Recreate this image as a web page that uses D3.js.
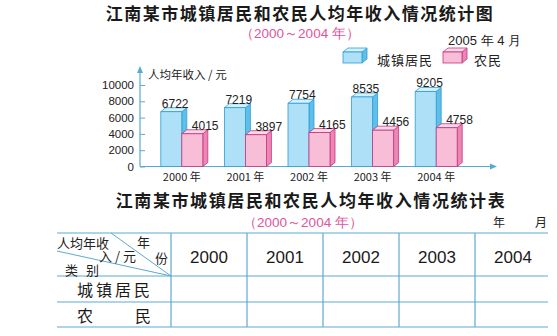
<!DOCTYPE html>
<html>
<head>
<meta charset="utf-8">
<script src="https://cdn.jsdelivr.net/npm/d3@7"></script>
<style>
  html, body { margin: 0; padding: 0; background: #fff; }
  svg { display: block; }
</style>
</head>
<body>
<svg id="chart" width="557" height="336"></svg>
<script>
// Per-capita annual income, 2000–2004 (yuan)
const years = ["2000", "2001", "2002", "2003", "2004"];
const urbanIncome = [6722, 7219, 7754, 8535, 9205];
const ruralIncome = [4015, 3897, 4165, 4456, 4758];
const yTicks = [0, 2000, 4000, 6000, 8000, 10000];
const seriesNames = ["城镇居民", "农民"];

const CJK = "'Noto Sans CJK SC', 'Noto Sans', sans-serif";
const LATIN = "'Liberation Sans', Arial, sans-serif";

const svg = d3.select("#chart");

const palette = {
  urban: { front: "#aee0f7", side: "#5fbfe9", top: "#d6f1fc", stroke: "#2c9fd6" },
  rural: { front: "#f8bdd7", side: "#ec86b5", top: "#fcd9e8", stroke: "#c8327e" }
};
const axisColor = "#5aa9d2";
const depthX = 5, depthY = 4;

// ---------- chart titles ----------
svg.append("text")
  .attr("x", 300).attr("y", 20)
  .attr("text-anchor", "middle")
  .attr("font-family", CJK).attr("font-weight", 700)
  .attr("font-size", 17).attr("letter-spacing", 1.5)
  .attr("fill", "#1a1a1a")
  .text("江南某市城镇居民和农民人均年收入情况统计图");

svg.append("text")
  .attr("x", 300).attr("y", 38)
  .attr("text-anchor", "middle")
  .attr("font-family", LATIN).attr("font-size", 13.5)
  .attr("fill", "#e0559c")
  .text("（2000～2004 年）");

svg.append("text")
  .attr("x", 448).attr("y", 45)
  .attr("font-family", LATIN).attr("font-size", 13)
  .attr("fill", "#222")
  .text("2005 年 4 月");

// ---------- scales ----------
const x = d3.scaleBand().domain(years).range([150, 468]);
const y = d3.scaleLinear().domain([0, 10000]).range([166.5, 85]);
const barW = 21;

// draws a box with front face, side face and top face
function box(g, x0, y0, w, h, c) {
  g.append("path")
    .attr("d", `M${x0 + w},${y0} l${depthX},${-depthY} l0,${h} l${-depthX},${depthY} Z`)
    .attr("fill", c.side).attr("stroke", c.stroke).attr("stroke-width", 0.8);
  g.append("path")
    .attr("d", `M${x0},${y0} l${depthX},${-depthY} l${w},0 l${-depthX},${depthY} Z`)
    .attr("fill", c.top).attr("stroke", c.stroke).attr("stroke-width", 0.8);
  g.append("rect")
    .attr("x", x0).attr("y", y0).attr("width", w).attr("height", h)
    .attr("fill", c.front).attr("stroke", c.stroke).attr("stroke-width", 0.8);
}

// ---------- axes ----------
const axes = svg.append("g");
axes.append("line")
  .attr("x1", 140).attr("x2", 140)
  .attr("y1", y(0)).attr("y2", 72)
  .attr("stroke", axisColor).attr("stroke-width", 1.2);
axes.append("path")
  .attr("d", "M140,66 l-3,7 l6,0 Z").attr("fill", axisColor);
axes.append("line")
  .attr("x1", 140).attr("x2", 490)
  .attr("y1", y(0)).attr("y2", y(0))
  .attr("stroke", axisColor).attr("stroke-width", 1.2);
axes.append("path")
  .attr("d", `M497,${y(0)} l-7,-3 l0,6 Z`).attr("fill", axisColor);

const yAxis = d3.axisRight(y).tickValues(yTicks).tickSize(5).tickFormat("");
const yg = svg.append("g").attr("transform", "translate(140,0)").call(yAxis);
yg.select(".domain").remove();
yg.selectAll(".tick line").attr("stroke", axisColor);

svg.append("g").selectAll("text").data(yTicks).join("text")
  .attr("x", 134).attr("y", d => y(d) + 4)
  .attr("text-anchor", "end")
  .attr("font-family", LATIN).attr("font-size", 11.5)
  .attr("fill", "#222")
  .text(d => d);

svg.append("text")
  .attr("x", 148).attr("y", 79)
  .attr("font-family", CJK).attr("font-size", 11.5)
  .attr("fill", "#222")
  .text("人均年收入 / 元");

// ---------- bars ----------
const bars = svg.append("g");
years.forEach((yr, i) => {
  const cx = x(yr) + x.bandwidth() / 2;
  box(bars.append("g"), cx - barW, y(urbanIncome[i]), barW, y(0) - y(urbanIncome[i]), palette.urban);
  box(bars.append("g"), cx, y(ruralIncome[i]), barW, y(0) - y(ruralIncome[i]), palette.rural);
});

// value labels
const labels = svg.append("g")
  .attr("font-family", LATIN).attr("font-size", 12).attr("fill", "#222");
years.forEach((yr, i) => {
  const cx = x(yr) + x.bandwidth() / 2;
  labels.append("text")
    .attr("x", cx - barW + 1).attr("y", y(urbanIncome[i]) - 4)
    .text(urbanIncome[i]);
  labels.append("text")
    .attr("x", cx + 10).attr("y", y(ruralIncome[i]) - 4)
    .text(ruralIncome[i]);
});

// category labels
svg.append("g").selectAll("text").data(years).join("text")
  .attr("x", d => x(d) + x.bandwidth() / 2)
  .attr("y", 181)
  .attr("text-anchor", "middle")
  .attr("font-family", CJK).attr("font-size", 11)
  .attr("fill", "#222")
  .text(d => d + " 年");

// ---------- legend ----------
const legend = svg.append("g");
box(legend.append("g"), 343, 52, 19, 11, palette.urban);
legend.append("text")
  .attr("x", 377).attr("y", 65)
  .attr("font-family", CJK).attr("font-size", 13)
  .attr("letter-spacing", 1)
  .attr("fill", "#222")
  .text(seriesNames[0]);
box(legend.append("g"), 443, 52, 19, 11, palette.rural);
legend.append("text")
  .attr("x", 474).attr("y", 65)
  .attr("font-family", CJK).attr("font-size", 13)
  .attr("letter-spacing", 1)
  .attr("fill", "#222")
  .text(seriesNames[1]);

// ---------- blank statistics table ----------
svg.append("text")
  .attr("x", 311).attr("y", 207)
  .attr("text-anchor", "middle")
  .attr("font-family", CJK).attr("font-weight", 700)
  .attr("font-size", 17).attr("letter-spacing", 1.6)
  .attr("fill", "#1a1a1a")
  .text("江南某市城镇居民和农民人均年收入情况统计表");

svg.append("text")
  .attr("x", 303).attr("y", 227)
  .attr("text-anchor", "middle")
  .attr("font-family", LATIN).attr("font-size", 13.5)
  .attr("fill", "#e0559c")
  .text("（2000～2004 年）");

svg.append("text").attr("x", 493).attr("y", 227)
  .attr("font-family", CJK).attr("font-size", 12).attr("fill", "#222").text("年");
svg.append("text").attr("x", 535).attr("y", 227)
  .attr("font-family", CJK).attr("font-size", 12).attr("fill", "#222").text("月");

const tx = d3.scaleBand().domain(years).range([171, 551]);
const rowY = [233, 276, 302, 327];
const tableLeft = 57, tableRight = 548;
const lineColor = "#5ea9cf";
const table = svg.append("g");

table.selectAll("line.h").data(rowY).join("line")
  .attr("x1", tableLeft).attr("x2", tableRight)
  .attr("y1", d => d).attr("y2", d => d)
  .attr("stroke", lineColor).attr("stroke-width", 1.2);

table.selectAll("line.v").data(years).join("line")
  .attr("x1", d => tx(d)).attr("x2", d => tx(d))
  .attr("y1", rowY[0]).attr("y2", rowY[3])
  .attr("stroke", lineColor).attr("stroke-width", 1.2);

// diagonal header cell
table.append("line")
  .attr("x1", 111).attr("y1", rowY[0]).attr("x2", tx(years[0])).attr("y2", rowY[1])
  .attr("stroke", lineColor).attr("stroke-width", 1);
table.append("line")
  .attr("x1", tableLeft).attr("y1", 251).attr("x2", tx(years[0])).attr("y2", rowY[1])
  .attr("stroke", lineColor).attr("stroke-width", 1);

const hdr = table.append("g")
  .attr("font-family", CJK).attr("font-size", 13).attr("fill", "#222");
hdr.append("text").attr("x", 57).attr("y", 248).text("人均年收");
hdr.append("text").attr("x", 137).attr("y", 247).text("年");
hdr.append("text").attr("x", 99).attr("y", 261).text("入 / 元");
hdr.append("text").attr("x", 155).attr("y", 263).text("份");
hdr.append("text").attr("x", 65).attr("y", 275).attr("letter-spacing", 8).text("类别");

table.selectAll("text.yr").data(years).join("text")
  .attr("x", d => tx(d) + tx.bandwidth() / 2)
  .attr("y", 263)
  .attr("text-anchor", "middle")
  .attr("font-family", LATIN).attr("font-size", 17)
  .attr("fill", "#1a1a1a")
  .text(d => d);

// row headings
const rows = table.append("g")
  .attr("font-family", CJK).attr("font-size", 16).attr("fill", "#1a1a1a");
rows.append("text").attr("x", 77).attr("y", 296)
  .attr("letter-spacing", 3).text(seriesNames[0]);
rows.append("text").attr("x", 77).attr("y", 322).text(seriesNames[1][0]);
rows.append("text").attr("x", 135).attr("y", 322).text(seriesNames[1][1]);
</script>
</body>
</html>
